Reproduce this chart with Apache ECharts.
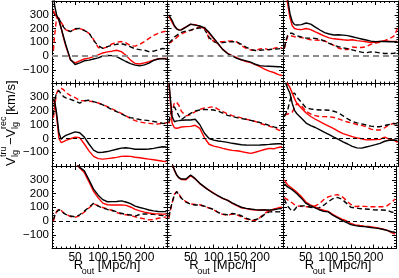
<!DOCTYPE html>
<html><head><meta charset="utf-8">
<script src="https://cdn.jsdelivr.net/npm/echarts@6/dist/echarts.min.js"></script>
<style>html,body{margin:0;padding:0;background:#fff}#c{width:399px;height:278px}</style>
</head><body><div id="c"></div>
<script>
// R_out sample positions [Mpc/h]
const R = [3, 6, 10, 15, 20, 25, 30, 40, 50, 60, 70, 80, 90, 100, 110, 120, 130, 140, 150, 160, 170, 180, 190, 200, 210, 220, 230, 240, 248];
const xTickLabels = [50, 100, 150, 200];
const yTickLabels = [-100, 0, 100, 200, 300];

// Row 1
const r1c1_blackSolid = [450, 360, 300, 260, 200, 140, 80, -25, -62, -50, -35, -30, -22, -14, 0, 4, 3, -5, -22, -40, -55, -66, -72, -65, -52, -32, -22, -19, -22];
const r1c1_redSolid   = [330, 310, 300, 260, 200, 130, 70, -30, -50, -35, -22, -15, -5, 8, 22, 30, 35, 42, 32, 5, -30, -55, -58, -50, -42, -30, -20, -17, -18];
const r1c1_blackDash  = [320, 300, 290, 270, 240, 210, 190, 178, 198, 200, 185, 170, 112, 75, 55, 68, 78, 85, 90, 80, 67, 52, 46, 42, 32, 35, 45, 55, 50];
const r1c1_redDash    = [40, 160, 280, 275, 245, 215, 190, 180, 195, 200, 188, 165, 120, 62, 55, 67, 88, 100, 105, 95, 75, 72, 85, 105, 128, 150, 165, 176, 180];

const r1c2_blackSolid = [300, 282, 258, 220, 198, 188, 190, 210, 232, 225, 218, 205, 172, 130, 88, 45, 18, 0, -17, -27, -35, -45, -60, -70, -74, -75, -76, -78, -78];
const r1c2_redSolid   = [290, 270, 245, 215, 198, 190, 192, 212, 230, 228, 215, 200, 165, 125, 85, 48, 20, 2, -12, -28, -40, -48, -62, -78, -95, -110, -120, -135, -142];
const r1c2_blackDash  = [95, 105, 118, 138, 150, 162, 172, 182, 188, 198, 205, 195, 135, 105, 92, 97, 102, 104, 102, 85, 65, 47, 40, 42, 45, 47, 50, 52, 55];
const r1c2_redDash    = [92, 98, 108, 118, 135, 150, 160, 175, 186, 200, 210, 210, 125, 108, 104, 104, 108, 110, 102, 75, 55, 44, 40, 52, 55, 45, 55, 65, 58];

const r1c3_blackSolid = [600, 500, 420, 310, 250, 228, 225, 228, 240, 232, 210, 189, 170, 160, 153, 155, 152, 148, 140, 132, 124, 116, 108, 104, 106, 105, 104, 104, 104];
const r1c3_redSolid   = [550, 470, 380, 280, 220, 200, 195, 192, 200, 192, 175, 160, 145, 132, 125, 122, 118, 115, 118, 112, 108, 104, 97, 100, 105, 110, 107, 106, 105];
const r1c3_blackDash  = [60, 110, 150, 165, 165, 155, 148, 138, 130, 130, 128, 120, 110, 92, 78, 68, 60, 53, 45, 35, 28, 24, 30, 28, 22, 18, 18, 20, 25];
const r1c3_redDash    = [55, 100, 140, 150, 145, 140, 138, 134, 126, 118, 116, 115, 108, 95, 78, 58, 48, 46, 65, 62, 62, 67, 85, 95, 100, 112, 125, 145, 200];

// Row 2
const r2c1_blackSolid = [290, 270, 183, 40, -5, 12, 22, 36, 48, 42, 10, -40, -85, -102, -100, -95, -86, -78, -70, -67, -72, -78, -78, -78, -76, -72, -65, -60, -62];
const r2c1_redSolid   = [275, 260, 160, 0, -30, -22, -14, -2, 10, 5, -40, -90, -130, -146, -150, -146, -142, -137, -130, -128, -130, -136, -140, -145, -150, -155, -160, -165, -168];
const r2c1_blackDash  = [170, 280, 335, 348, 322, 305, 295, 285, 272, 258, 275, 278, 268, 258, 245, 228, 210, 195, 180, 162, 152, 145, 138, 134, 130, 124, 118, 110, 108];
const r2c1_redDash    = [150, 240, 330, 362, 365, 355, 335, 312, 298, 276, 275, 272, 267, 258, 246, 232, 215, 200, 183, 165, 145, 130, 120, 114, 110, 106, 106, 110, 112];

const r2c2_blackSolid = [420, 300, 160, 122, 128, 130, 133, 135, 135, 140, 100, 38, 0, -12, -18, -23, -28, -35, -40, -45, -47, -48, -48, -47, -45, -43, -40, -38, -38];
const r2c2_redSolid   = [400, 280, 110, 78, 75, 78, 84, 86, 88, 96, 74, 5, -42, -55, -63, -72, -80, -86, -89, -95, -102, -108, -100, -90, -80, -72, -75, -65, -60];
const r2c2_blackDash  = [120, 170, 225, 230, 195, 162, 137, 162, 182, 200, 207, 211, 210, 207, 198, 184, 168, 160, 152, 145, 140, 132, 124, 116, 106, 96, 85, 75, 70];
const r2c2_redDash    = [110, 145, 195, 262, 262, 240, 198, 165, 173, 195, 212, 222, 226, 231, 212, 195, 180, 166, 158, 150, 140, 133, 124, 110, 100, 90, 78, 62, 52];

const r2c3_blackSolid = [470, 400, 365, 329, 255, 205, 180, 147, 112, 94, 80, 62, 45, 28, 10, -6, -24, -40, -57, -68, -70, -62, -54, -45, -35, -20, -13, -11, -15];
const r2c3_redSolid   = [480, 440, 400, 370, 330, 290, 255, 220, 185, 160, 140, 122, 105, 88, 72, 52, 35, 25, 14, 5, -2, -10, -9, -8, -6, 10, -5, -12, -28];
const r2c3_blackDash  = [160, 180, 205, 275, 325, 330, 300, 262, 222, 215, 210, 207, 207, 205, 198, 187, 165, 142, 124, 114, 106, 98, 90, 86, 86, 94, 102, 110, 105];
const r2c3_redDash    = [170, 175, 178, 183, 192, 225, 256, 238, 198, 178, 166, 159, 159, 158, 153, 143, 130, 120, 112, 102, 95, 86, 68, 62, 62, 78, 100, 110, 86];

// Row 3
const r3c1_blackSolid = [700, 690, 670, 640, 610, 580, 550, 490, 430, 390, 365, 300, 232, 188, 155, 140, 141, 142, 146, 138, 126, 108, 98, 90, 80, 74, 69, 68, 68];
const r3c1_redSolid   = [690, 675, 655, 625, 595, 565, 540, 480, 425, 385, 352, 285, 215, 168, 130, 118, 116, 116, 117, 114, 102, 85, 74, 65, 58, 54, 52, 50, 50];
const r3c1_blackDash  = [10, 40, 65, 82, 72, 58, 48, 36, 30, 45, 72, 100, 128, 108, 94, 84, 76, 68, 56, 48, 44, 36, 48, 52, 50, 48, 44, 40, 40];
const r3c1_redDash    = [0, 35, 70, 88, 76, 60, 50, 32, 26, 40, 65, 95, 124, 112, 98, 88, 78, 62, 50, 45, 40, 30, 22, 15, 8, 10, 20, 26, 30];

const r3c2_blackSolid = [500, 460, 420, 370, 335, 315, 305, 305, 335, 308, 274, 248, 222, 200, 182, 165, 150, 132, 115, 100, 92, 87, 83, 80, 80, 80, 82, 88, 92];
const r3c2_redSolid   = [490, 455, 415, 368, 332, 312, 302, 300, 330, 305, 272, 245, 224, 203, 180, 163, 152, 128, 112, 96, 90, 84, 80, 78, 82, 74, 86, 96, 100];
const r3c2_blackDash  = [30, 80, 135, 190, 213, 188, 165, 138, 122, 116, 116, 108, 96, 84, 62, 50, 45, 55, 50, 38, 20, 10, 10, 20, 48, 66, 68, 66, 68];
const r3c2_redDash    = [20, 75, 132, 195, 215, 195, 168, 140, 124, 120, 118, 106, 94, 82, 60, 48, 42, 50, 45, 30, 15, 4, 2, 25, 55, 75, 85, 90, 92];

const r3c3_blackSolid = [270, 258, 248, 238, 228, 215, 200, 168, 130, 112, 98, 82, 70, 66, 42, 24, 6, -10, -26, -34, -38, -41, -45, -50, -54, -60, -68, -78, -82];
const r3c3_redSolid   = [300, 282, 264, 250, 238, 225, 210, 180, 140, 118, 104, 88, 78, 70, 48, 30, 14, 2, -18, -28, -33, -37, -40, -45, -50, -58, -66, -84, -95];
const r3c3_blackDash  = [160, 135, 110, 90, 72, 80, 100, 110, 110, 100, 95, 95, 115, 140, 162, 172, 160, 130, 100, 95, 90, 88, 85, 82, 80, 80, 78, 65, 60];
const r3c3_redDash    = [170, 165, 155, 140, 133, 120, 110, 106, 104, 105, 108, 125, 155, 175, 185, 192, 180, 150, 120, 105, 108, 106, 104, 104, 104, 104, 110, 135, 160];

const panels = [
  [r1c1_blackSolid, r1c1_redSolid, r1c1_blackDash, r1c1_redDash],
  [r1c2_blackSolid, r1c2_redSolid, r1c2_blackDash, r1c2_redDash],
  [r1c3_blackSolid, r1c3_redSolid, r1c3_blackDash, r1c3_redDash],
  [r2c1_blackSolid, r2c1_redSolid, r2c1_blackDash, r2c1_redDash],
  [r2c2_blackSolid, r2c2_redSolid, r2c2_blackDash, r2c2_redDash],
  [r2c3_blackSolid, r2c3_redSolid, r2c3_blackDash, r2c3_redDash],
  [r3c1_blackSolid, r3c1_redSolid, r3c1_blackDash, r3c1_redDash],
  [r3c2_blackSolid, r3c2_redSolid, r3c2_blackDash, r3c2_redDash],
  [r3c3_blackSolid, r3c3_redSolid, r3c3_blackDash, r3c3_redDash]
];

const FONT = '"Liberation Sans", Arial, Helvetica, sans-serif';
const colLeft = [52, 167.5, 283];
const rowTop = [1, 83.5, 166];
const W = 115.5, H = 82.5;

const grid = [], xAxis = [], yAxis = [], series = [];
const fmtY = v => (yTickLabels.indexOf(v) < 0 ? '' : (v < 0 ? '\u2212' + (-v) : String(v)));
const fmtX = v => (xTickLabels.indexOf(v) < 0 ? '' : String(v));

for (let row = 0; row < 3; row++) {
  for (let col = 0; col < 3; col++) {
    const i = row * 3 + col;
    grid.push({left: colLeft[col], top: rowTop[row], width: W, height: H, containLabel: false});
    const axLine = {show: true, onZero: false, lineStyle: {color: '#000', width: 1}};
    const tick = {show: true, inside: true, length: 4, lineStyle: {color: '#000', width: 1}};
    const minor = {show: true, splitNumber: 5, length: 2, lineStyle: {color: '#000', width: 1}};
    const baseX = {gridIndex: i, type: 'value', min: 0, max: 250, interval: 50,
      axisLine: axLine, axisTick: tick, minorTick: minor, splitLine: {show: false}};
    xAxis.push(Object.assign({}, baseX, {position: 'bottom',
      axisLabel: {show: row === 2, formatter: fmtX, color: '#000', fontSize: 12, fontFamily: FONT, margin: 3}}));
    xAxis.push(Object.assign({}, baseX, {position: 'top', axisLabel: {show: false}}));
    const baseY = {gridIndex: i, type: 'value', min: -200, max: 400, interval: 100,
      axisLine: axLine, axisTick: tick, minorTick: minor, splitLine: {show: false}};
    yAxis.push(Object.assign({}, baseY, {position: 'left',
      axisLabel: {show: col === 0, formatter: fmtY, color: '#000', fontSize: 11.5, fontFamily: FONT, margin: 3}}));
    yAxis.push(Object.assign({}, baseY, {position: 'right', axisLabel: {show: false}}));

    const [bs, rs, bd, rd] = panels[i];
    const mk = (arr, color, dashed) => ({
      type: 'line', xAxisIndex: 2 * i, yAxisIndex: 2 * i,
      data: R.map((r, k) => [r, arr[k]]),
      symbol: 'none', showSymbol: false, silent: true, clip: true, animation: false,
      lineStyle: {color: color, width: 1.4, type: dashed ? [5, 3] : 'solid'}
    });
    const first = mk(rd, '#ff0000', true);
    first.markLine = {
      silent: true, symbol: ['none', 'none'], animation: false, label: {show: false},
      lineStyle: row === 0 ? {color: '#8c8c8c', width: 1.8, type: [6, 4]} : {color: '#000', width: 1, type: [4, 3]},
      data: [{yAxis: 0}]
    };
    series.push(first, mk(bd, '#000', true), mk(rs, '#ff0000', false), mk(bs, '#000', false));
  }
}

// axis titles
const graphic = [];
const xTitleStyle = {fill: '#000', font: '13px ' + FONT};
for (let col = 0; col < 3; col++) {
  const cx = colLeft[col] + W / 2 - 3;
  graphic.push({type: 'group', left: cx - 33, top: 259, children: [
    {type: 'text', x: 0, y: 0, style: {text: 'R', fill: '#000', font: '13px ' + FONT}},
    {type: 'text', x: 8, y: 8, style: {text: 'out', fill: '#000', font: '9px ' + FONT}},
    {type: 'text', x: 24, y: 0, style: {text: '[Mpc/h]', fill: '#000', font: '13px ' + FONT}}
  ]});
}
graphic.push({type: 'group', x: 11, y: 124, rotation: Math.PI / 2, children: [
  {type: 'text', x: -42, y: 0, style: {text: 'V', fill: '#000', font: '13px ' + FONT, verticalAlign: 'middle'}},
  {type: 'text', x: -33, y: -7, style: {text: 'tru', fill: '#000', font: '9px ' + FONT, verticalAlign: 'middle'}},
  {type: 'text', x: -33, y: 5, style: {text: 'lg', fill: '#000', font: '9px ' + FONT, verticalAlign: 'middle'}},
  {type: 'text', x: -21, y: 0, style: {text: '\u2212V', fill: '#000', font: '13px ' + FONT, verticalAlign: 'middle'}},
  {type: 'text', x: -5, y: -7, style: {text: 'rec', fill: '#000', font: '9px ' + FONT, verticalAlign: 'middle'}},
  {type: 'text', x: -5, y: 5, style: {text: 'lg', fill: '#000', font: '9px ' + FONT, verticalAlign: 'middle'}},
  {type: 'text', x: 9, y: 0, style: {text: '[km/s]', fill: '#000', font: '13px ' + FONT, verticalAlign: 'middle'}}
]});

const chart = echarts.init(document.getElementById('c'), null, {renderer: 'canvas'});
chart.setOption({animation: false, backgroundColor: '#fff', grid, xAxis, yAxis, series, graphic});
</script>
</body></html>
